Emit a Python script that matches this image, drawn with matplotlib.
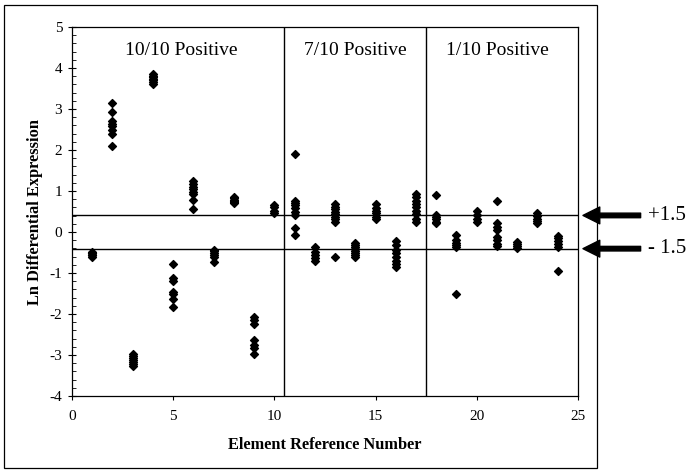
import numpy as np
import matplotlib
matplotlib.use("Agg")
import matplotlib.pyplot as plt
from matplotlib.patches import Rectangle
from matplotlib.ticker import MultipleLocator

plt.rcParams.update({
    "font.family": "Liberation Serif",
    "font.size": 11,
    "axes.unicode_minus": False,
})

# Ln differential expression readings per element
elements = list(range(1, 25))
readings = [
    [-0.48, -0.5, -0.52, -0.55, -0.57, -0.6],
    [3.15, 2.92, 2.7, 2.63, 2.58, 2.5, 2.38, 2.1],
    [-2.98, -3.03, -3.08, -3.12, -3.17, -3.22, -3.27],
    [3.85, 3.8, 3.77, 3.73, 3.7, 3.66, 3.62],
    [-0.78, -1.13, -1.19, -1.46, -1.51, -1.64, -1.82],
    [1.25, 1.17, 1.09, 1.04, 0.98, 0.93, 0.78, 0.57],
    [-0.43, -0.47, -0.52, -0.56, -0.6, -0.72],
    [0.85, 0.82, 0.79, 0.76, 0.73, 0.7],
    [-2.08, -2.15, -2.24, -2.63, -2.76, -2.84, -2.98],
    [0.65, 0.6, 0.52, 0.47],
    [1.9, 0.76, 0.71, 0.66, 0.58, 0.5, 0.41, 0.09, -0.07],
    [-0.37, -0.48, -0.56, -0.64, -0.7],
    [0.68, 0.62, 0.55, 0.5, 0.44, 0.37, 0.31, 0.25, -0.62],
    [-0.27, -0.32, -0.37, -0.42, -0.47, -0.52, -0.57, -0.62],
    [0.68, 0.58, 0.52, 0.46, 0.37, 0.31],
    [-0.21, -0.32, -0.44, -0.52, -0.6, -0.7, -0.78, -0.86],
    [0.93, 0.85, 0.76, 0.68, 0.6, 0.52, 0.44, 0.33, 0.25],
    [0.9, 0.41, 0.36, 0.31, 0.25, 0.21],
    [-0.07, -0.2, -0.26, -0.32, -0.37, -1.52],
    [0.51, 0.41, 0.33, 0.25],
    [0.76, 0.23, 0.13, 0.05, -0.11, -0.2, -0.28, -0.34],
    [-0.24, -0.29, -0.34, -0.39],
    [0.46, 0.39, 0.33, 0.28, 0.21],
    [-0.1, -0.15, -0.21, -0.28, -0.37, -0.94],
]
group_bounds = [10.5, 17.5]
group_labels = ["10/10 Positive", "7/10 Positive", "1/10 Positive"]
group_label_x = [5.4, 14.0, 21.0]
fold_cut = 1.5
cut_labels = ["+1.5", "- 1.5"]

xs = np.concatenate([[e] * len(v) for e, v in zip(elements, readings)])
ys = np.concatenate(readings)

fig = plt.figure(figsize=(6.93, 4.70), dpi=100)
ax = fig.add_axes([0.1039, 0.1574, 0.730, 0.785])

# outer frame around the whole chart
fig.patches.append(Rectangle((0.0058, 0.004), 0.856, 0.985, transform=fig.transFigure,
                             fill=False, edgecolor="black", lw=0.9))

ax.scatter(xs, ys, marker="D", s=16, color="black", zorder=3)

cut = np.log(fold_cut)
for yv in (cut, -cut):
    ax.axhline(yv, color="black", lw=1.0)
for xb in group_bounds:
    ax.axvline(xb, color="black", lw=1.0)

for lab, gx in zip(group_labels, group_label_x):
    ax.text(gx, 4.42, lab, ha="center", va="center", fontsize=14)

for yv, lab in zip((cut, -cut), cut_labels):
    ax.annotate("", xy=(25.25, yv), xytext=(28.1, yv), annotation_clip=False,
                arrowprops=dict(arrowstyle="simple,head_length=1.1,head_width=1.1,tail_width=0.3",
                                color="black", shrinkA=0, shrinkB=0))
    ax.text(28.45, yv, lab, ha="left", va="center", fontsize=15, clip_on=False)

ax.set_xlim(0, 25)
ax.set_ylim(-4, 5)
ax.xaxis.set_major_locator(MultipleLocator(5))
ax.yaxis.set_major_locator(MultipleLocator(1))
ax.yaxis.set_minor_locator(MultipleLocator(0.2))
ax.tick_params(axis="y", which="major", direction="inout", length=6, width=0.8, pad=4)
ax.tick_params(axis="y", which="minor", direction="in", length=3, width=0.6)
ax.tick_params(axis="x", which="major", direction="out", length=3, width=0.8, pad=7)
for sp in ax.spines.values():
    sp.set_linewidth(0.9)

ax.set_xlabel("Element Reference Number", fontweight="bold", fontsize=11.8, labelpad=10)
ax.set_ylabel("Ln Differential Expression", fontweight="bold", fontsize=11.8, labelpad=5)

fig.savefig("out.png", dpi=100)
